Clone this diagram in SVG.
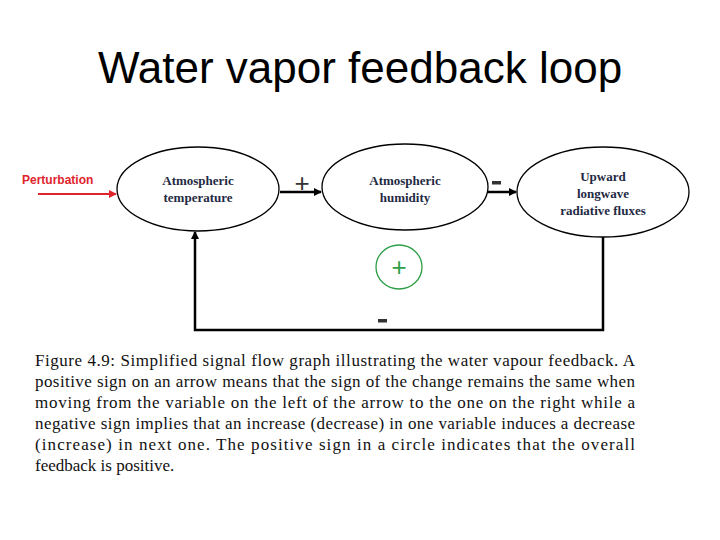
<svg xmlns="http://www.w3.org/2000/svg" width="720" height="540" viewBox="0 0 720 540">
<style>
.node{fill:#fff;stroke:#000;stroke-width:1.3}
.nt{font-family:"Liberation Serif",serif;font-weight:bold;font-size:13px;fill:#1f2a44;text-anchor:middle}
.c{stroke:#000;stroke-width:2.5;fill:none}
.sign{font-family:"Liberation Sans",sans-serif;font-size:26px;fill:#333;text-anchor:middle}
.cap{font-family:"Liberation Serif",serif;font-size:17px;fill:#111}
</style>
<defs>
<marker id="ah" markerWidth="8" markerHeight="8" refX="7" refY="4" orient="auto" markerUnits="userSpaceOnUse"><path d="M0,0L8,4L0,8z" fill="#000"/></marker>
<marker id="ahr" markerWidth="8" markerHeight="8" refX="7" refY="4" orient="auto" markerUnits="userSpaceOnUse"><path d="M0,0L8,4L0,8z" fill="#e0242c"/></marker>
</defs>
<rect width="720" height="540" fill="#fff"/>
<text x="360" y="83" font-family="Liberation Sans,sans-serif" font-size="44" text-anchor="middle" fill="#000">Water vapor feedback loop</text>
<g id="perturbation">
<text x="22" y="184" font-family="Liberation Sans,sans-serif" font-weight="bold" font-size="12" fill="#e0242c">Perturbation</text>
</g>
<g id="connectors">
<line x1="38" y1="194" x2="116" y2="194" stroke="#e0242c" stroke-width="2" marker-end="url(#ahr)"/>
<line class="c" x1="280" y1="192" x2="321" y2="192" marker-end="url(#ah)"/>
<line class="c" x1="487" y1="192" x2="516" y2="192" marker-end="url(#ah)"/>
<polyline class="c" points="603,237 603,330 195,330 195,232" marker-end="url(#ah)"/>
<text class="sign" x="302" y="192">+</text>
<rect x="492" y="181" width="9" height="3.5" fill="#333"/>
<rect x="378" y="319" width="9" height="3.5" fill="#333"/>
</g>
<g id="temp"><ellipse class="node" cx="198" cy="189" rx="81" ry="42"/>
<text class="nt" x="198" y="185">Atmospheric</text><text class="nt" x="198" y="202">temperature</text></g>
<g id="humidity"><ellipse class="node" cx="405" cy="187" rx="83" ry="43"/>
<text class="nt" x="405" y="185">Atmospheric</text><text class="nt" x="405" y="202">humidity</text></g>
<g id="flux"><ellipse class="node" cx="603" cy="192" rx="86" ry="45"/>
<text class="nt" x="603" y="181">Upward</text><text class="nt" x="603" y="198">longwave</text><text class="nt" x="603" y="215">radiative fluxes</text></g>
<g id="overall"><ellipse cx="399" cy="267" rx="23" ry="22" fill="none" stroke="#2e9e48" stroke-width="1.3"/>
<text x="399" y="276" font-family="Liberation Sans,sans-serif" font-size="26" fill="#2e9e48" text-anchor="middle">+</text></g>
<g id="caption">
<text class="cap" font-family="Liberation Serif" x="35" y="366" textLength="600" lengthAdjust="spacing">Figure 4.9: Simplified signal flow graph illustrating the water vapour feedback. A</text>
<text class="cap" font-family="Liberation Serif" x="35" y="387" textLength="600" lengthAdjust="spacing">positive sign on an arrow means that the sign of the change remains the same when</text>
<text class="cap" font-family="Liberation Serif" x="35" y="408" textLength="600" lengthAdjust="spacing">moving from the variable on the left of the arrow to the one on the right while a</text>
<text class="cap" font-family="Liberation Serif" x="35" y="429" textLength="600" lengthAdjust="spacing">negative sign implies that an increase (decrease) in one variable induces a decrease</text>
<text class="cap" font-family="Liberation Serif" x="35" y="450" textLength="600" lengthAdjust="spacing">(increase) in next one. The positive sign in a circle indicates that the overall</text>
<text class="cap" font-family="Liberation Serif" x="35" y="471">feedback is positive.</text>
</g>
</svg>
